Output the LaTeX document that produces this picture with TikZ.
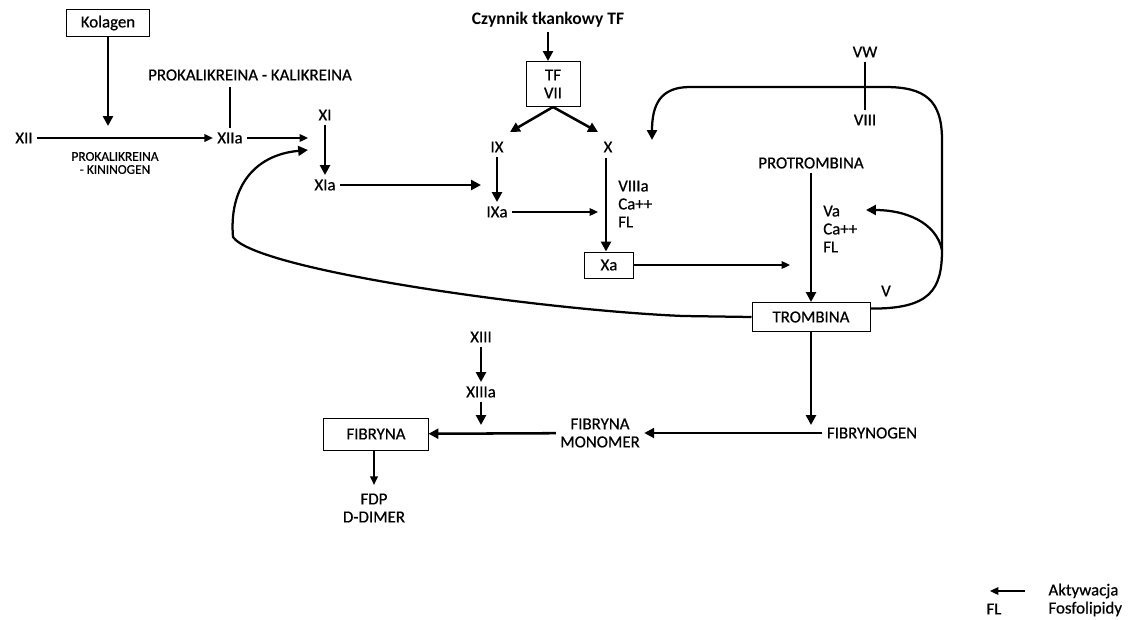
\documentclass[tikz,border=0pt]{standalone}
\usepackage{fontspec}
\setmainfont{Carlito}
\newfontfamily\labfam{Carlito}[FakeBold=0.6]
\usepackage{tikz}
\usetikzlibrary{arrows.meta}
\newcommand{\labfont}{\labfam\fontsize{12}{12.8}\selectfont}
\newcommand{\tinyfont}{\labfam\fontsize{9.5}{9.3}\selectfont}
\tikzset{
  box/.style={draw=black,line width=0.7pt,fill=white,align=center,font=\labfont,inner sep=2pt},
  lab/.style={align=center,font=\labfont,inner sep=3pt},
  cof/.style={align=left,font=\labfont,inner sep=0pt,anchor=west},
  flow/.style={-{Triangle[length=7pt,width=7pt]},line width=1.8pt},
  tflow/.style={-{Triangle[length=6pt,width=5.5pt]},line width=0.9pt},
  tline/.style={line width=0.9pt},
  loop/.style={line width=1.6pt}
}

\begin{document}
\begin{tikzpicture}[x=0.025cm,y=-0.025cm]
  \useasboundingbox (0,0) rectangle (1130,619);
  % contact pathway
  \node[box,minimum width=2.05cm,minimum height=0.675cm] (kol) at (108,23) {Kolagen};
  \node[lab] (xii) at (24,138) {XII};
  \node[lab] (xiia) at (230,138) {XIIa};
  \node[lab,font=\tinyfont] (pkk) at (115,163) {PROKALIKREINA\\- KININOGEN};
  \node[lab] (pkal) at (250,75) {PROKALIKREINA - KALIKREINA};
  \node[lab] (xi) at (325,115) {XI};
  \node[lab] (xia) at (325,185) {XIa};
  \coordinate (kolend) at (108,126);
  \coordinate (xiin) at (308,138);
  \coordinate (xiback) at (308,150);
  \draw[flow] (kol) -- (kolend);
  \draw[tflow] (xii) -- (xiia);
  \draw[tline] (xiia.north |- 0,87) -- (xiia.north);
  \draw[tflow] (xiia) -- (xiin);
  \draw[flow] (xi) -- (xia);
  % tissue factor
  \node[lab,font=\fontsize{12.5}{14}\selectfont\bfseries] (czyn) at (548,20) {Czynnik tkankowy TF};
  \node[box,minimum width=1.35cm,minimum height=1.125cm] (tfvii) at (553,84) {TF\\VII};
  \node[lab] (ix) at (497,147) {IX};
  \node[lab] (x) at (608,147) {X};
  \node[lab] (ixa) at (497,212) {IXa};
  \node[cof] (viiia) at (618,204) {VIIIa\\Ca++\\FL};
  \node[box,minimum width=1.225cm,minimum height=0.65cm] (xa) at (609,265) {Xa};
  \coordinate (ixin) at (481,185);
  \coordinate (xin) at (598,212);
  \coordinate (trin) at (790,265);
  \draw[flow] (czyn.south) -- (czyn.south |- tfvii.north);
  \draw[flow] (tfvii.south) -- (510,132);
  \draw[flow] (tfvii.south) -- (598,132);
  \draw[flow] (xia) -- (ixin);
  \draw[flow] (ix) -- (ixa);
  \draw[tflow] (ixa) -- (xin);
  \draw[flow] (606,158) -- (xa.north -| 606,0);
  \draw[tflow] (xa) -- (trin);
  % thrombin
  \node[lab] (protr) at (811,163) {PROTROMBINA};
  \node[cof] (va) at (823,229) {Va\\Ca++\\FL};
  \node[box,minimum width=2.95cm,minimum height=0.725cm] (tromb) at (811,317) {TROMBINA};
  \node[lab] (vw) at (865,52) {VW};
  \node[lab] (viii) at (865,120) {VIII};
  \node[lab] (vlab) at (886,291) {V};
  \coordinate (xfb) at (652,140);
  \coordinate (vbr) at (942,250);
  \coordinate (vain) at (866,210);
  \draw[flow] (protr) -- (tromb);
  \draw[tline] (vw) -- (viii);
  \draw[loop,-{Triangle[length=7pt,width=7pt]}] ([yshift=6pt]tromb.east) .. controls (930,309) and (942,290) .. (vbr)
    -- (942,140) .. controls (942,100) and (925,87) .. (885,87) -- (690,87)
    .. controls (660,87) and (652,105) .. (xfb);
  \draw[loop,-{Triangle[length=7pt,width=7pt]}] (vbr) .. controls (936,222) and (905,210) .. (vain);
  \draw[loop,-{Triangle[length=7pt,width=7pt]}] (tromb.west) -- (683,316)
    .. controls (540,310) and (255,270) .. (233,237)
    .. controls (229,190) and (252,155) .. (xiback);
  % fibrin
  \node[lab] (fibg) at (872,433) {FIBRYNOGEN};
  \node[lab] (mono) at (600,433) {FIBRYNA\\MONOMER};
  \node[box,minimum width=2.6cm,minimum height=0.8cm] (fib) at (376,434) {FIBRYNA};
  \node[lab] (xiii) at (481,337) {XIII};
  \node[lab] (xiiia) at (481,392) {XIIIa};
  \node[lab,inner sep=6pt] (fdp) at (374,508) {FDP\\D-DIMER};
  \coordinate (fgin) at (811,425);
  \coordinate (fibin) at (481,425);
  \draw[flow] (tromb) -- (fgin);
  \draw[flow] (fibg.west) -- (mono);
  \draw[flow] (mono) -- (fib);
  \draw[flow] (xiii) -- (xiiia);
  \draw[flow] (xiiia) -- (fibin);
  \draw[tflow] (fib.south -| fdp) -- (fdp);
  % legend
  \node[lab,anchor=west] (akt) at (1044,591) {Aktywacja};
  \node[lab] (fl) at (994,609) {FL};
  \node[lab,anchor=west] (fosf) at (1044,609) {Fosfolipidy};
  \coordinate (lega) at (1025,591);
  \coordinate (legb) at (990,591);
  \draw[tflow] (lega) -- (legb);
\end{tikzpicture}
\end{document}
